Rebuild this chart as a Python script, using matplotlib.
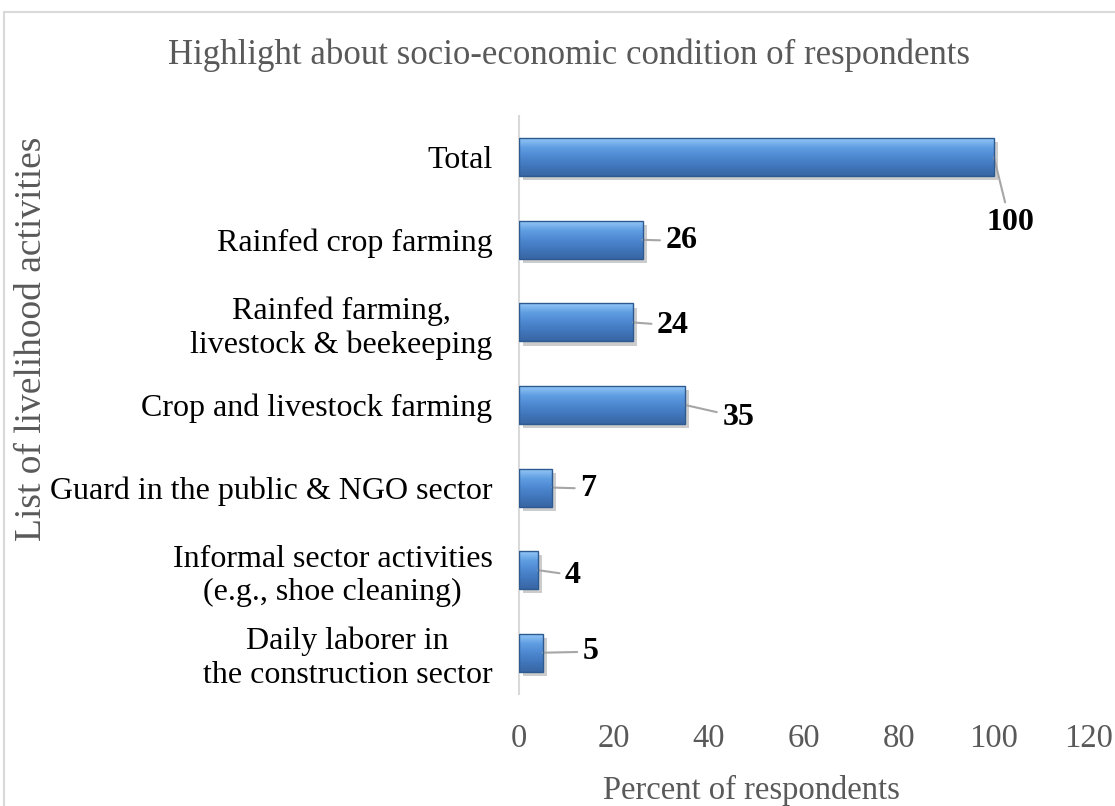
import numpy as np
import matplotlib
matplotlib.use('Agg')
from matplotlib import pyplot as plt
from matplotlib import patheffects as pe
from matplotlib.patches import Rectangle
from matplotlib.colors import LinearSegmentedColormap

categories = ['Total',
              'Rainfed crop farming',
              'Rainfed farming,\nlivestock & beekeeping',
              'Crop and livestock farming',
              'Guard in the public & NGO sector',
              'Informal sector activities\n(e.g., shoe cleaning)',
              'Daily laborer in\nthe construction sector']
values = [100, 26, 24, 35, 7, 4, 5]
x_ticks = [0, 20, 40, 60, 80, 100, 120]

title = 'Highlight about socio-economic condition of respondents'
x_label = 'Percent of respondents'
y_label = 'List of livelihood activities'

# where each data label sits relative to the bar end (pixels)
label_offsets = [(16, -65), (23, -1), (24, -3), (37, -12), (28, -1), (27, -5), (40, 1)]

plt.rcParams['font.family'] = ['Liberation Serif', 'DejaVu Serif']

fig = plt.figure(figsize=(11.15, 8.06), dpi=100)
fig.patches.append(Rectangle((4 / 1115, -0.1), 1.2, (806 - 12) / 806 + 0.1,
                             transform=fig.transFigure, fill=False,
                             edgecolor='#D9D9D9', lw=1.5))
ax = fig.add_axes([519 / 1115, 1 - 694 / 806, (1089 - 519) / 1115, (694 - 116) / 806])

y = np.arange(len(categories))
h = 0.46
grad_cmap = LinearSegmentedColormap.from_list(
    'bar', ['#93C6F6', '#5F9DE2', '#4C87CF', '#4176BC', '#3866A3'])
grad = np.linspace(0, 1, 64).reshape(-1, 1)

bars = ax.barh(y, values, height=h, color='#3F72B2', zorder=2)
for b, v, yy in zip(bars, values, y):
    b.set_path_effects([pe.SimplePatchShadow(offset=(3, -3), shadow_rgbFace='#808080', alpha=0.4),
                        pe.Normal()])
    im = ax.imshow(grad, cmap=grad_cmap, aspect='auto', origin='upper',
                   extent=(0, v, yy + h / 2, yy - h / 2), zorder=3, interpolation='bilinear')
    im.set_clip_path(b)
    ax.add_patch(Rectangle((0, yy - h / 2), v, h, fill=False, edgecolor='#2E5A92', lw=1.0, zorder=4))

for v, yy, off in zip(values, y, label_offsets):
    ax.annotate(str(v), xy=(v, yy), xytext=off, textcoords='offset pixels',
                ha='center' if v == 100 else 'left', va='center',
                fontsize=23, fontweight='bold', color='black',
                arrowprops=dict(arrowstyle='-', color='#A6A6A6', lw=1.5,
                                shrinkA=2, shrinkB=0))

ax.set_xlim(0, 120)
ax.set_ylim(len(categories) - 0.5, -0.5)
ax.set_xticks(x_ticks)
ax.set_yticks(y)
ax.set_yticklabels(categories, fontsize=23, color='black', multialignment='center')
ax.tick_params(axis='y', length=0, pad=19)
ax.tick_params(axis='x', length=0, pad=21, labelsize=23.5, labelcolor='#595959')
for s in ['top', 'right', 'bottom']:
    ax.spines[s].set_visible(False)
ax.spines['left'].set_color('#D9D9D9')
ax.spines['left'].set_linewidth(1.5)

fig.text(569 / 1115, 1 - 55 / 806, title, ha='center', va='center', fontsize=25, color='#595959')
fig.text(751 / 1115, 1 - 790 / 806, x_label, ha='center', va='center', fontsize=23.5, color='#595959')
fig.text(32 / 1115, 1 - 339 / 806, y_label, ha='center', va='center', rotation=90,
         fontsize=27, color='#595959')

plt.savefig('out.png', dpi=100)
